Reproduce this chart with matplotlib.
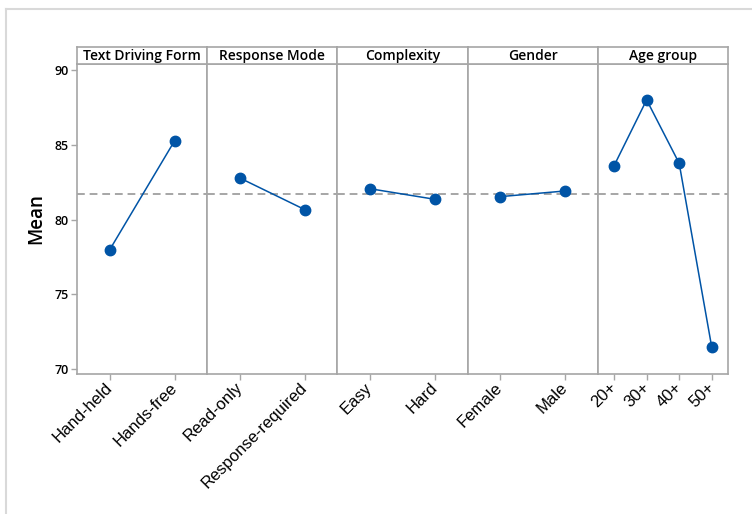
import matplotlib
matplotlib.use("Agg")
import matplotlib.pyplot as plt
from matplotlib.lines import Line2D
import numpy as np

# main effects data: factor name, levels, mean response per level
factors = ["Text Driving Form", "Response Mode", "Complexity", "Gender", "Age group"]
levels = [
    ["Hand-held", "Hands-free"],
    ["Read-only", "Response-required"],
    ["Easy", "Hard"],
    ["Female", "Male"],
    ["20+", "30+", "40+", "50+"],
]
means = [
    [77.96, 85.27],
    [82.78, 80.66],
    [82.06, 81.35],
    [81.53, 81.91],
    [83.60, 88.00, 83.76, 71.47],
]
grand_mean = 81.73
yticks = [70, 75, 80, 85, 90]

W, H = 752, 514
blue = "#0054a6"
frame = "#a6a6a6"

fig = plt.figure(figsize=(W / 100, H / 100), dpi=100)
fig.patch.set_facecolor("white")

# light outer border
fig.add_artist(Line2D([6 / W, 6 / W], [0, 1 - 9 / H], color="#d9d9d9", lw=1.5))
fig.add_artist(Line2D([6 / W, 1], [1 - 9 / H, 1 - 9 / H], color="#d9d9d9", lw=1.5))

left, panel_w = 77, 130.2
top, strip_h, bottom = 47, 17, 374

for i, (name, labs, vals) in enumerate(zip(factors, levels, means)):
    x0 = left + i * panel_w
    ax = fig.add_axes([x0 / W, 1 - bottom / H, panel_w / W, (bottom - top - strip_h) / H])
    n = len(labs)
    xs = np.arange(n)
    ax.plot(xs, vals, "-", color=blue, lw=1.1, zorder=3)
    ax.plot(xs, vals, "o", color=blue, ms=7.5, zorder=4)
    ax.axhline(grand_mean, color="#a6a6a6", lw=1.4, ls=(0, (4, 2.5)), zorder=2)
    ax.set_xlim(-0.5, n - 0.5)
    ax.set_ylim(69.67, 90.40)
    ax.set_xticks(xs)
    ax.set_xticklabels(labs, rotation=45, ha="right", va="center", rotation_mode="anchor",
                       fontsize=12, family="Liberation Sans")
    ax.set_yticks(yticks)
    if i == 0:
        ax.set_yticklabels([str(t) for t in yticks], fontsize=9, family="Open Sans",
                           fontweight="semibold")
        ax.set_ylabel("Mean", fontsize=13.5, family="Open Sans", fontweight="semibold",
                      labelpad=6)
    else:
        ax.tick_params(axis="y", left=False, labelleft=False)
    ax.tick_params(axis="both", color=frame, length=4, width=1)
    ax.tick_params(axis="x", pad=4)
    ax.tick_params(axis="y", pad=2)
    for s in ax.spines.values():
        s.set_color(frame)
        s.set_linewidth(1.2)

    # factor title strip
    sax = fig.add_axes([x0 / W, 1 - (top + strip_h) / H, panel_w / W, strip_h / H])
    sax.set_xticks([])
    sax.set_yticks([])
    for s in sax.spines.values():
        s.set_color(frame)
        s.set_linewidth(1.2)
    sax.text(0.5, 0.45, name, ha="center", va="center", fontsize=10,
             family="Open Sans", fontweight="semibold", transform=sax.transAxes)

fig.savefig("out.png", dpi=100)
